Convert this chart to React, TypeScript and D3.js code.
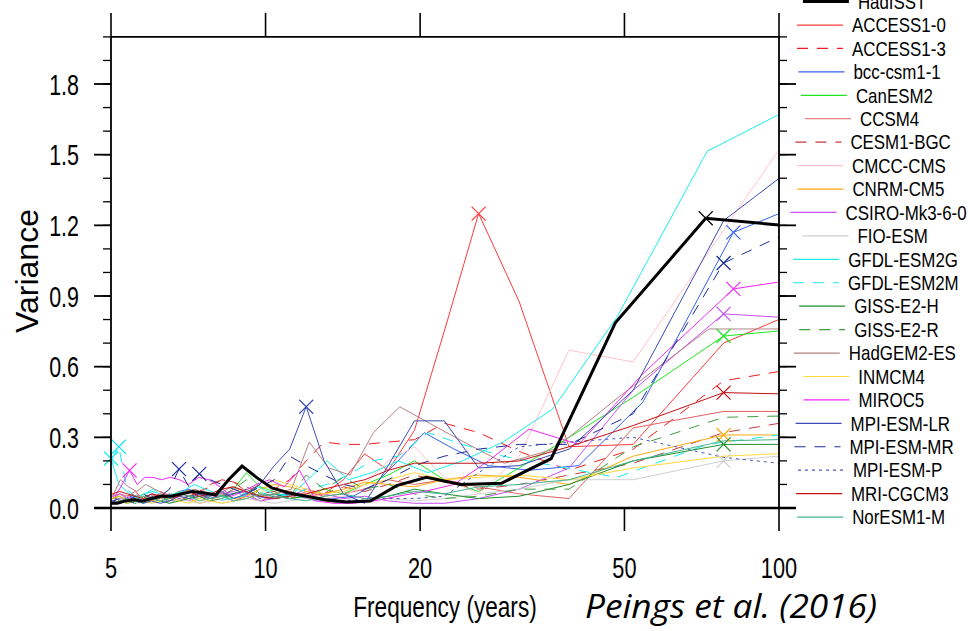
import React from 'react';
import * as d3 from 'd3';

const W = 968;
const H = 631;

// ---- data ----
const xTickValues = [5, 10, 20, 50, 100];
const yMajorTicks = [0, 0.3, 0.6, 0.9, 1.2, 1.5, 1.8];
const yMinorTicks = d3.range(0, 21).map((i) => i / 10);

const modelNames = [
  'HadISST', 'ACCESS1-0', 'ACCESS1-3', 'bcc-csm1-1', 'CanESM2', 'CCSM4', 'CESM1-BGC',
  'CMCC-CMS', 'CNRM-CM5', 'CSIRO-Mk3-6-0', 'FIO-ESM', 'GFDL-ESM2G', 'GFDL-ESM2M',
  'GISS-E2-H', 'GISS-E2-R', 'HadGEM2-ES', 'INMCM4', 'MIROC5', 'MPI-ESM-LR',
  'MPI-ESM-MR', 'MPI-ESM-P', 'MRI-CGCM3', 'NorESM1-M',
];
// record length (years); harmonic k sits at period = years / k
const recordYears = [144, 156, 156, 163, 156, 156, 156, 156, 156, 156, 156, 145, 145,
  156, 156, 146, 156, 163, 156, 156, 156, 156, 156];

const hadisst = [1.17, 1.23, 0.786, 0.21, 0.105, 0.10, 0.13, 0.095, 0.03, 0.025, 0.035, 0.05, 0.065, 0.085, 0.13, 0.178, 0.12, 0.055, 0.065, 0.07, 0.06, 0.05, 0.05, 0.04, 0.03, 0.035, 0.03, 0.02, 0.02];
const access10 = [0.98, 0.70, 0.27, 0.26, 0.875, 1.25, 0.75, 0.33, 0.16, 0.23, 0.12, 0.06, 0.05, 0.07, 0.04, 0.06, 0.05, 0.03, 0.06, 0.04, 0.07, 0.05, 0.03, 0.05, 0.06, 0.04, 0.03, 0.05, 0.04, 0.03, 0.05];
const access13 = [0.65, 0.54, 0.25, 0.16, 0.24, 0.32, 0.36, 0.29, 0.28, 0.27, 0.27, 0.28, 0.20, 0.12, 0.08, 0.10, 0.07, 0.11, 0.12, 0.09, 0.07, 0.08, 0.06, 0.05, 0.07, 0.05, 0.04, 0.06, 0.05, 0.04, 0.06];
const bccCsm11 = [1.44, 1.17, 0.45, 0.18, 0.16, 0.18, 0.25, 0.32, 0.20, 0.10, 0.05, 0.04, 0.03, 0.05, 0.06, 0.04, 0.05, 0.07, 0.06, 0.05, 0.04, 0.06, 0.08, 0.07, 0.05, 0.04, 0.06, 0.05, 0.04, 0.05, 0.03, 0.04];
const canEsm2 = [0.79, 0.73, 0.47, 0.30, 0.17, 0.07, 0.12, 0.20, 0.14, 0.10, 0.06, 0.08, 0.05, 0.04, 0.07, 0.09, 0.15, 0.08, 0.05, 0.06, 0.04, 0.05, 0.07, 0.05, 0.03, 0.04, 0.06, 0.04, 0.03, 0.05, 0.04];
const ccsm4 = [0.41, 0.41, 0.34, 0.04, 0.06, 0.09, 0.12, 0.10, 0.12, 0.08, 0.06, 0.05, 0.07, 0.04, 0.05, 0.03, 0.06, 0.08, 0.05, 0.04, 0.06, 0.05, 0.07, 0.04, 0.06, 0.05, 0.04, 0.07, 0.05, 0.06, 0.04];
const cesm1Bgc = [0.43, 0.32, 0.19, 0.14, 0.10, 0.08, 0.11, 0.14, 0.10, 0.07, 0.09, 0.06, 0.08, 0.05, 0.07, 0.06, 0.09, 0.11, 0.12, 0.10, 0.07, 0.05, 0.06, 0.04, 0.05, 0.03, 0.04, 0.06, 0.05, 0.04, 0.03];
const cmccCms = [2.13, 1.18, 0.62, 0.67, 0.22, 0.06, 0.13, 0.26, 0.20, 0.10, 0.05, 0.04, 0.06, 0.05, 0.04, 0.06, 0.05, 0.04, 0.03, 0.05, 0.04, 0.06, 0.05, 0.03, 0.04, 0.05, 0.04, 0.03, 0.05, 0.04, 0.03];
const cnrmCm5 = [0.31, 0.31, 0.22, 0.10, 0.13, 0.14, 0.12, 0.09, 0.10, 0.11, 0.08, 0.06, 0.07, 0.09, 0.10, 0.08, 0.05, 0.04, 0.06, 0.03, 0.02, 0.04, 0.05, 0.06, 0.04, 0.03, 0.05, 0.04, 0.03, 0.05, 0.04];
const csiro = [0.785, 0.824, 0.50, 0.17, 0.08, 0.04, 0.02, 0.02, 0.03, 0.05, 0.04, 0.06, 0.08, 0.05, 0.04, 0.03, 0.05, 0.07, 0.06, 0.04, 0.05, 0.03, 0.04, 0.06, 0.05, 0.04, 0.03, 0.05, 0.04, 0.06, 0.05];
const fioEsm = [0.256, 0.20, 0.12, 0.12, 0.08, 0.06, 0.04, 0.03, 0.04, 0.03, 0.02, 0.03, 0.04, 0.03, 0.02, 0.03, 0.04, 0.03, 0.02, 0.03, 0.02, 0.03, 0.04, 0.02, 0.03, 0.02, 0.03, 0.02, 0.03, 0.02, 0.03];
const gfdlEsm2g = [1.85, 1.515, 0.81, 0.42, 0.28, 0.20, 0.15, 0.20, 0.15, 0.12, 0.20, 0.12, 0.05, 0.06, 0.09, 0.05, 0.04, 0.06, 0.08, 0.10, 0.07, 0.06, 0.05, 0.08, 0.06, 0.04, 0.07, 0.10, 0.21];
const gfdlEsm2m = [0.356, 0.27, 0.13, 0.18, 0.22, 0.27, 0.32, 0.22, 0.20, 0.14, 0.10, 0.08, 0.06, 0.05, 0.07, 0.06, 0.04, 0.03, 0.05, 0.07, 0.06, 0.04, 0.05, 0.07, 0.06, 0.05, 0.08, 0.26, 0.20];
const gissE2h = [0.27, 0.27, 0.20, 0.10, 0.05, 0.04, 0.06, 0.08, 0.05, 0.03, 0.02, 0.03, 0.05, 0.04, 0.06, 0.05, 0.08, 0.06, 0.04, 0.03, 0.05, 0.04, 0.03, 0.02, 0.03, 0.04, 0.02, 0.03, 0.02, 0.03, 0.02];
const gissE2r = [0.40, 0.385, 0.26, 0.08, 0.08, 0.05, 0.04, 0.06, 0.10, 0.08, 0.13, 0.08, 0.14, 0.05, 0.04, 0.06, 0.12, 0.08, 0.05, 0.04, 0.06, 0.05, 0.04, 0.03, 0.05, 0.04, 0.03, 0.02, 0.03, 0.04, 0.03];
const hadgem2Es = [0.76, 0.76, 0.47, 0.25, 0.19, 0.28, 0.36, 0.43, 0.32, 0.14, 0.17, 0.28, 0.08, 0.06, 0.05, 0.07, 0.09, 0.06, 0.05, 0.08, 0.07, 0.05, 0.06, 0.08, 0.10, 0.07, 0.09, 0.12, 0.05];
const inmcm4 = [0.25, 0.22, 0.17, 0.12, 0.14, 0.13, 0.12, 0.15, 0.12, 0.10, 0.07, 0.06, 0.08, 0.10, 0.12, 0.06, 0.04, 0.03, 0.02, 0.03, 0.04, 0.02, 0.03, 0.04, 0.03, 0.02, 0.03, 0.04, 0.02, 0.03, 0.02];
const miroc5 = [1.03, 0.93, 0.57, 0.27, 0.335, 0.20, 0.10, 0.07, 0.05, 0.03, 0.02, 0.02, 0.03, 0.16, 0.09, 0.12, 0.10, 0.07, 0.05, 0.09, 0.12, 0.13, 0.10, 0.12, 0.13, 0.12, 0.13, 0.13, 0.10, 0.16, 0.10, 0.05];
const mpiEsmLr = [1.72, 1.22, 0.50, 0.25, 0.18, 0.17, 0.37, 0.37, 0.18, 0.02, 0.06, 0.20, 0.43, 0.25, 0.18, 0.10, 0.06, 0.04, 0.07, 0.05, 0.06, 0.04, 0.05, 0.03, 0.02, 0.03, 0.02, 0.04, 0.03, 0.02, 0.03];
const mpiEsmMr = [1.35, 1.04, 0.40, 0.27, 0.27, 0.25, 0.22, 0.18, 0.12, 0.08, 0.10, 0.14, 0.18, 0.22, 0.12, 0.09, 0.06, 0.08, 0.10, 0.12, 0.145, 0.09, 0.165, 0.08, 0.05, 0.04, 0.06, 0.05, 0.03, 0.04, 0.03];
const mpiEsmP = [0.145, 0.215, 0.30, 0.28, 0.26, 0.15, 0.05, 0.04, 0.04, 0.04, 0.03, 0.04, 0.05, 0.06, 0.05, 0.04, 0.07, 0.06, 0.05, 0.04, 0.06, 0.05, 0.04, 0.03, 0.04, 0.05, 0.03, 0.02, 0.03, 0.04, 0.03];
const mriCgcm3 = [0.475, 0.49, 0.35, 0.26, 0.20, 0.19, 0.19, 0.19, 0.16, 0.12, 0.10, 0.08, 0.06, 0.05, 0.04, 0.05, 0.07, 0.09, 0.08, 0.06, 0.05, 0.07, 0.05, 0.04, 0.05, 0.06, 0.04, 0.05, 0.06, 0.07, 0.06];
const norEsm1m = [0.30, 0.285, 0.20, 0.12, 0.10, 0.09, 0.06, 0.07, 0.05, 0.04, 0.06, 0.05, 0.03, 0.04, 0.05, 0.06, 0.04, 0.03, 0.05, 0.04, 0.03, 0.05, 0.06, 0.04, 0.03, 0.04, 0.05, 0.03, 0.04, 0.03, 0.02];

const seriesValues = [hadisst, access10, access13, bccCsm11, canEsm2, ccsm4, cesm1Bgc, cmccCms,
  cnrmCm5, csiro, fioEsm, gfdlEsm2g, gfdlEsm2m, gissE2h, gissE2r, hadgem2Es, inmcm4, miroc5,
  mpiEsmLr, mpiEsmMr, mpiEsmP, mriCgcm3, norEsm1m];

// [model, harmonic index k]
const markerPoints: [string, number][] = [
  ['HadISST', 2], ['ACCESS1-0', 6], ['bcc-csm1-1', 2], ['CanESM2', 2], ['CNRM-CM5', 2],
  ['CSIRO-Mk3-6-0', 2], ['FIO-ESM', 2], ['GFDL-ESM2G', 29], ['GFDL-ESM2M', 28],
  ['GISS-E2-H', 2], ['MIROC5', 2], ['MIROC5', 30], ['MPI-ESM-LR', 13], ['MPI-ESM-MR', 2],
  ['MPI-ESM-MR', 21], ['MPI-ESM-MR', 23], ['MRI-CGCM3', 2],
];

// ---- styles ----
const colors: Record<string, string> = {
  'HadISST': '#000000', 'ACCESS1-0': '#ff3b3b', 'ACCESS1-3': '#ee1c1c', 'bcc-csm1-1': '#3562f0',
  'CanESM2': '#1ee81e', 'CCSM4': '#e06262', 'CESM1-BGC': '#c43c3c', 'CMCC-CMS': '#ffc4cc',
  'CNRM-CM5': '#ffaa10', 'CSIRO-Mk3-6-0': '#c850f5', 'FIO-ESM': '#cfcfcf', 'GFDL-ESM2G': '#18f0f0',
  'GFDL-ESM2M': '#18e8f0', 'GISS-E2-H': '#1f8f2f', 'GISS-E2-R': '#3f9f3f', 'HadGEM2-ES': '#b48282',
  'INMCM4': '#ffd83a', 'MIROC5': '#f528f5', 'MPI-ESM-LR': '#3c4cb4', 'MPI-ESM-MR': '#1c2c94',
  'MPI-ESM-P': '#4858bc', 'MRI-CGCM3': '#c41010', 'NorESM1-M': '#44b494',
};
const dashes: Record<string, string> = {
  'ACCESS1-3': '11,9', 'CESM1-BGC': '11,9', 'GFDL-ESM2M': '11,9', 'GISS-E2-R': '11,9',
  'MPI-ESM-MR': '11,9', 'MPI-ESM-P': '3,4',
};

const FONT = 'Liberation Sans, Arial, Helvetica, sans-serif';

function measure(text: string, font: string): number {
  const ctx = document.createElement('canvas').getContext('2d');
  if (!ctx) return text.length * 12;
  ctx.font = font;
  return ctx.measureText(text).width;
}

export default function App() {
  const x = d3.scaleLog().domain([5, 100]).range([111, 779]);
  const y = d3.scaleLinear().domain([0, 2]).range([508, 36.9]);
  const line = d3.line<[number, number]>().x((d) => x(d[0])).y((d) => y(d[1]));

  const series = modelNames.map((name, i) => {
    const n = recordYears[i];
    const pts: [number, number][] = seriesValues[i].map((v, k) => [n / (k + 1), v]);
    return { name, pts };
  });
  const drawOrder = [...series.slice(1), series[0]];

  const legendFontSize = 20;
  const legendScale = 0.845;
  const legendStep = 23.43;
  const legendY0 = 1.6;

  const top = y(2);
  const bottom = y(0);

  return (
    <svg width={W} height={H} style={{ position: 'absolute', left: 0, top: 0, background: '#fff' }}
      xmlns="http://www.w3.org/2000/svg">
      <defs>
        <clipPath id="plotClip">
          <rect x={x(5)} y={0} width={x(100) - x(5)} height={H} />
        </clipPath>
      </defs>
      <rect x={0} y={0} width={W} height={H} fill="#fff" />

      {/* series */}
      <g clipPath="url(#plotClip)" fill="none">
        {drawOrder.map((s) => (
          <path key={s.name} d={line(s.pts) || ''} stroke={colors[s.name]}
            strokeWidth={s.name === 'HadISST' ? 3 : 1} strokeDasharray={dashes[s.name]}
            strokeLinejoin="miter" />
        ))}
      </g>
      <g fill="none">
        {markerPoints.map(([name, k], i) => {
          const idx = modelNames.indexOf(name);
          const p = series[idx].pts[k - 1];
          const cx = x(p[0]);
          const cy = y(p[1]);
          const r = 7;
          return (
            <path key={i} d={`M${cx - r},${cy - r}L${cx + r},${cy + r}M${cx - r},${cy + r}L${cx + r},${cy - r}`}
              stroke={colors[name]} strokeWidth={1.2} />
          );
        })}
      </g>

      {/* frame */}
      <g stroke="#000" fill="none">
        <line x1={x(5)} x2={x(100)} y1={top} y2={top} strokeWidth={1.6} />
        <line x1={x(5) - 17} x2={x(100) + 17} y1={bottom} y2={bottom} strokeWidth={2.6} />
        <line x1={x(5)} x2={x(5)} y1={top} y2={bottom} strokeWidth={1.8} />
        <line x1={x(100)} x2={x(100)} y1={top} y2={bottom} strokeWidth={1.8} />
        {xTickValues.map((t) => (
          <g key={t}>
            <line x1={x(t)} x2={x(t)} y1={top - 24} y2={top} strokeWidth={1.6} />
            <line x1={x(t)} x2={x(t)} y1={bottom} y2={bottom + 23} strokeWidth={1.6} />
          </g>
        ))}
        {yMinorTicks.map((t) => (
          <g key={'m' + t}>
            <line x1={x(5) - 8} x2={x(5)} y1={y(t)} y2={y(t)} strokeWidth={1.3} />
            <line x1={x(100)} x2={x(100) + 8} y1={y(t)} y2={y(t)} strokeWidth={1.3} />
          </g>
        ))}
        {yMajorTicks.map((t) => (
          <g key={'M' + t}>
            <line x1={x(5) - 17} x2={x(5)} y1={y(t)} y2={y(t)} strokeWidth={1.8} />
            <line x1={x(100)} x2={x(100) + 17} y1={y(t)} y2={y(t)} strokeWidth={1.8} />
          </g>
        ))}
      </g>

      {/* y tick labels */}
      {yMajorTicks.map((t) => (
        <g key={'yl' + t} transform={`translate(79,${y(t) + 10.5}) scale(0.74,1)`}>
          <text textAnchor="end" fontFamily={FONT} fontSize={29}>{t.toFixed(1)}</text>
        </g>
      ))}
      {/* x tick labels */}
      {xTickValues.map((t) => (
        <g key={'xl' + t} transform={`translate(${x(t)},${578}) scale(0.75,1)`}>
          <text textAnchor="middle" fontFamily={FONT} fontSize={29}>{t}</text>
        </g>
      ))}

      {/* axis titles */}
      <g transform={`translate(38,271) rotate(-90)`}>
        <text textAnchor="middle" fontFamily={FONT} fontSize={32}>Variance</text>
      </g>
      <g transform={`translate(445,617) scale(0.78,1)`}>
        <text textAnchor="middle" fontFamily={FONT} fontSize={29}>Frequency (years)</text>
      </g>
      <text x={585} y={618} fontFamily="Open Sans, Noto Sans, sans-serif" fontStyle="italic" fontSize={33}
        textLength={292} lengthAdjust="spacingAndGlyphs">Peings et al. (2016)</text>

      {/* legend */}
      {modelNames.map((name, i) => {
        const cy = legendY0 + legendStep * i;
        const tw = measure(name, `${legendFontSize}px ${FONT}`) * legendScale;
        const tx = 874 - 0.235 * tw;
        return (
          <g key={'lg' + name}>
            <line x1={tx - 55} x2={tx - 9} y1={cy} y2={cy} stroke={colors[name]}
              strokeWidth={name === 'HadISST' ? 3 : 1.2} strokeDasharray={dashes[name]} />
            <g transform={`translate(${tx},${cy + 7.2}) scale(${legendScale},1)`}>
              <text fontFamily={FONT} fontSize={legendFontSize}>{name}</text>
            </g>
          </g>
        );
      })}
    </svg>
  );
}
